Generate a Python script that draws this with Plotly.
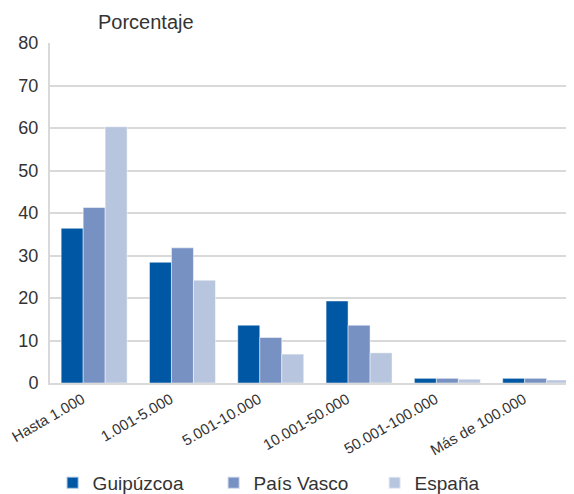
import plotly.graph_objects as go

categorias = ["Hasta 1.000", "1.001-5.000", "5.001-10.000", "10.001-50.000", "50.001-100.000", "Más de 100.000"]
guipuzcoa = [36.4, 28.4, 13.6, 19.3, 1.1, 1.1]
pais_vasco = [41.3, 31.8, 10.7, 13.6, 1.1, 1.1]
espana = [60.3, 24.2, 6.8, 7.1, 0.9, 0.7]
y_ticks = [0, 10, 20, 30, 40, 50, 60, 70, 80]

series = [
    ("Guipúzcoa", guipuzcoa, "#0057a4"),
    ("País Vasco", pais_vasco, "#7891c3"),
    ("España", espana, "#b8c5de"),
]

fig = go.Figure()
for name, vals, color in series:
    fig.add_trace(go.Bar(
        x=categorias, y=vals, name=name,
        marker=dict(color=color, line=dict(color="rgba(255,255,255,0.6)", width=0.8)),
    ))

font = "Liberation Sans, Arial, sans-serif"
# page body has an 8px default margin, so the figure is offset by 8px
fig.update_layout(
    width=566, height=486,
    margin=dict(l=42, r=0, t=35, b=111, autoexpand=False),
    paper_bgcolor="white", plot_bgcolor="white",
    barmode="group", bargap=0.253, bargroupgap=0,
    font=dict(family=font, color="#333333"),
    showlegend=True,
    legend=dict(
        orientation="h", x=0.005, xanchor="left", y=-0.294, yanchor="middle",
        font=dict(size=19, color="#333333"), entrywidth=116, entrywidthmode="pixels",
        itemsizing="constant", bgcolor="rgba(0,0,0,0)",
    ),
    xaxis=dict(
        type="category", range=[-0.5, 5.434], automargin=False,
        tickangle=-30, tickfont=dict(size=15, color="#333333"),
        ticklabelshift=-12,
        showline=True, linecolor="#d9d9d9", linewidth=2,
        ticks="", showgrid=False,
    ),
    yaxis=dict(
        range=[0, 80], tickvals=y_ticks, automargin=False,
        tickfont=dict(size=18, color="#333333"),
        showgrid=True, gridcolor="#d9d9d9", gridwidth=1.5,
        showline=True, linecolor="#d9d9d9", linewidth=2,
        ticks="outside", ticklen=6, tickcolor="rgba(0,0,0,0)",
        zeroline=False,
    ),
    annotations=[dict(
        text="Porcentaje", xref="paper", yref="paper", x=0.087, y=1.0,
        xanchor="left", yanchor="bottom", yshift=8, showarrow=False,
        font=dict(size=20, color="#333333", family=font),
    )],
)

fig.write_html("out.html")
